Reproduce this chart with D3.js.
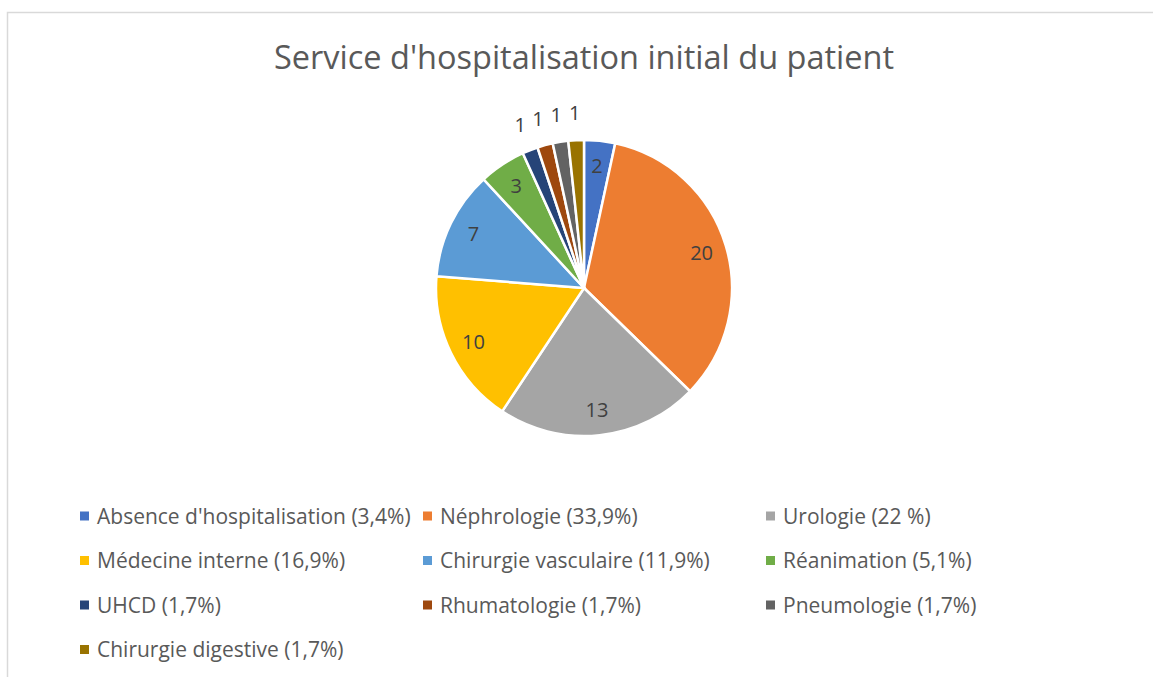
<!DOCTYPE html>
<html>
<head>
<meta charset="utf-8">
<script src="https://cdn.jsdelivr.net/npm/d3@7"></script>
<style>
  body { margin: 0; background: #fff; }
  svg { display: block; font-family: "Open Sans", sans-serif; }
</style>
</head>
<body>
<div id="chart"></div>
<script>
// data
const categories = ["Absence d'hospitalisation", "Néphrologie", "Urologie", "Médecine interne",
    "Chirurgie vasculaire", "Réanimation", "UHCD", "Rhumatologie", "Pneumologie", "Chirurgie digestive"];
const values = [2, 20, 13, 10, 7, 3, 1, 1, 1, 1];
const percentLabels = ["(3,4%)", "(33,9%)", "(22 %)", "(16,9%)", "(11,9%)", "(5,1%)",
    "(1,7%)", "(1,7%)", "(1,7%)", "(1,7%)"];
const colors = ["#4472C4", "#ED7D31", "#A5A5A5", "#FFC000", "#5B9BD5", "#70AD47",
    "#264478", "#9E480E", "#636363", "#997300"];
const title = "Service d'hospitalisation initial du patient";

const width = 1153;
const height = 677;
const center = {x: 584, y: 288};
const radius = 148;
const textColor = "#595959";

let svg = d3.select("#chart")
    .append("svg")
    .attr("width", width)
    .attr("height", height);

// chart area border (right and bottom run off the picture)
svg.append("rect")
    .attr("x", 7.5)
    .attr("y", 12.5)
    .attr("width", 1200)
    .attr("height", 700)
    .attr("fill", "none")
    .attr("stroke", "#d9d9d9")
    .attr("stroke-width", 1.5);

svg.append("text")
    .attr("x", center.x)
    .attr("y", 69)
    .attr("text-anchor", "middle")
    .attr("fill", textColor)
    .style("font-size", "32.5px")
    .text(title);

let pie = d3.pie()
    .sort(null)
    .value(function (d) { return d; });

let arcs = pie(values);

let arc = d3.arc()
    .innerRadius(0)
    .outerRadius(radius);

let g = svg.append("g")
    .attr("transform", "translate(" + center.x + "," + center.y + ")");

g.selectAll(".slice")
    .data(arcs)
    .enter()
    .append("path")
    .attr("class", "slice")
    .attr("d", arc)
    .attr("fill", function (d, i) { return colors[i]; })
    .attr("stroke", "#fff")
    .attr("stroke-width", 2.5);

// labels: inside for big slices, just outside for the tiny ones
function labelPos(d) {
    let a = (d.startAngle + d.endAngle) / 2;
    let r = d.value >= 2 ? radius * 0.83 : radius + 27;
    return [Math.sin(a) * r, -Math.cos(a) * r];
}

g.selectAll(".label")
    .data(arcs)
    .enter()
    .append("text")
    .attr("class", "label")
    .attr("x", function (d) { return labelPos(d)[0]; })
    .attr("y", function (d) { return labelPos(d)[1]; })
    .attr("dy", "0.36em")
    .attr("text-anchor", "middle")
    .attr("fill", "#404040")
    .style("font-size", "20px")
    .text(function (d) { return d.value; });

// legend, 3 columns
const legendX = 80, legendY = 516, colStep = 343, rowStep = 44.5;

let legend = svg.append("g")
    .attr("class", "legend")
    .selectAll(".item")
    .data(categories)
    .enter()
    .append("g")
    .attr("class", "item")
    .attr("transform", function (d, i) {
        return "translate(" + (legendX + (i % 3) * colStep) + "," + (legendY + Math.floor(i / 3) * rowStep) + ")";
    });

legend.append("rect")
    .attr("x", 0)
    .attr("y", -4.5)
    .attr("width", 9)
    .attr("height", 9)
    .attr("fill", function (d, i) { return colors[i]; });

legend.append("text")
    .attr("x", 17)
    .attr("dy", "0.36em")
    .attr("fill", textColor)
    .style("font-size", "21px")
    .text(function (d, i) { return d + " " + percentLabels[i]; });
</script>
</body>
</html>
